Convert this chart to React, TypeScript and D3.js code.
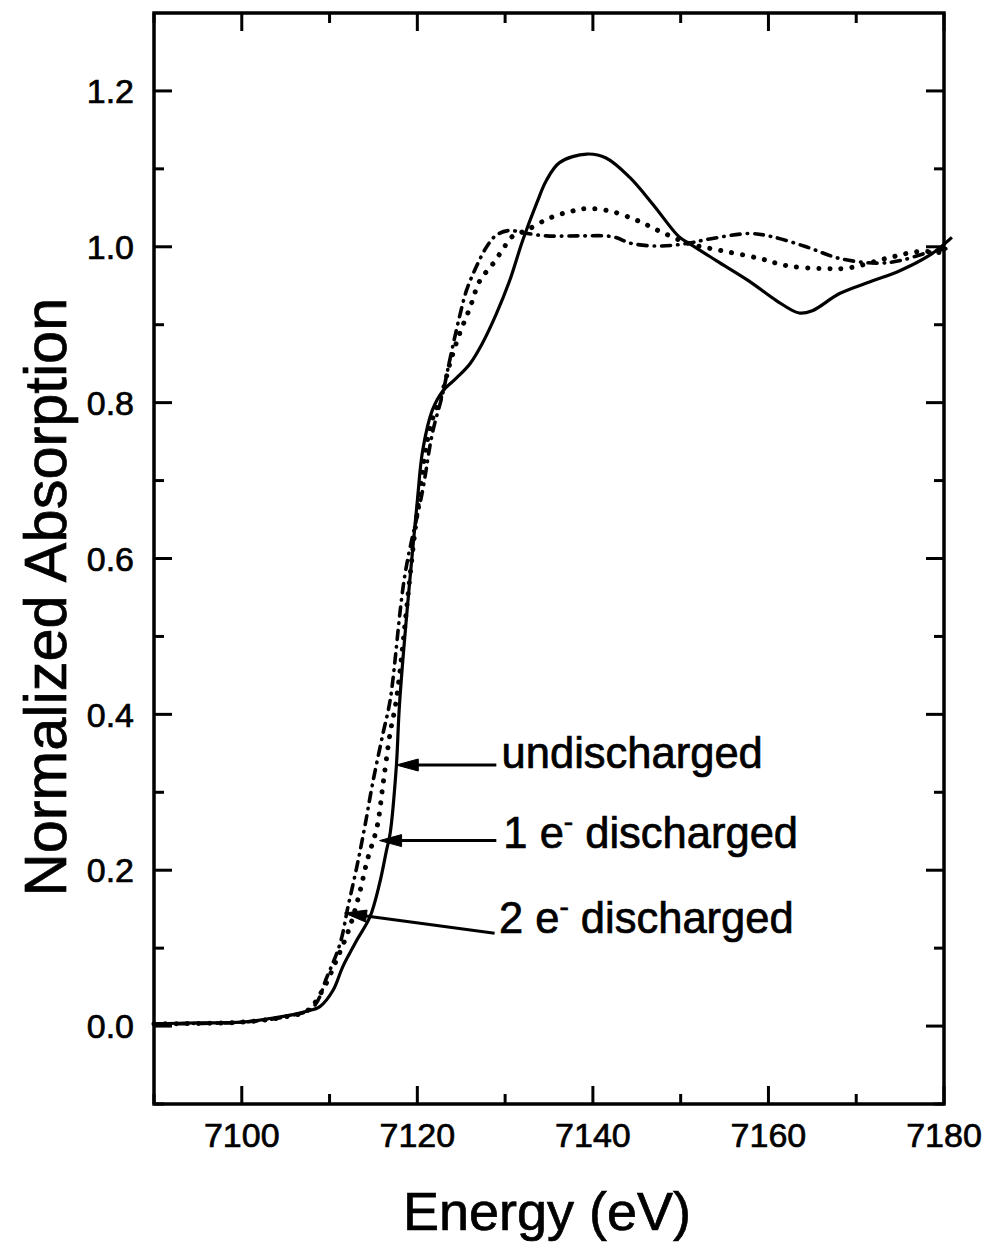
import React from "react";
import * as d3 from "d3";

// ---- data ----
const energyUndischarged = [7090, 7095, 7100, 7103.4, 7106, 7107.4, 7108.9, 7110.4, 7111.5, 7113.1, 7114.6, 7115.7, 7116.5, 7116.9, 7117.6, 7118.0, 7120.0, 7120.6, 7121.7, 7122.9, 7124.5, 7126.0, 7127.4, 7129.0, 7130.5, 7132.0, 7133.6, 7134.7, 7136.2, 7139.3, 7141.5, 7144.2, 7146.8, 7149.8, 7151.0, 7154.1, 7157.8, 7160.9, 7163.5, 7165.0, 7168.1, 7171.8, 7174.9, 7178.6, 7180.9];
const absUndischarged = [0.003, 0.004, 0.005, 0.01, 0.015, 0.019, 0.025, 0.046, 0.076, 0.11, 0.14, 0.183, 0.226, 0.247, 0.332, 0.418, 0.674, 0.738, 0.79, 0.815, 0.832, 0.85, 0.876, 0.914, 0.956, 1.008, 1.056, 1.085, 1.108, 1.119, 1.114, 1.089, 1.055, 1.013, 1.004, 0.982, 0.956, 0.931, 0.915, 0.918, 0.94, 0.956, 0.969, 0.991, 1.012];

const energyOneE = [7090, 7100, 7105, 7107.5, 7109.2, 7110.8, 7112.3, 7113.4, 7114.3, 7115.4, 7116.1, 7116.9, 7117.6, 7120.0, 7121.5, 7122.9, 7123.7, 7124.8, 7126, 7127.1, 7128.6, 7129.7, 7130.8, 7132.4, 7135.1, 7137.7, 7139.3, 7141.9, 7145, 7147.6, 7151, 7154.7, 7159, 7162, 7166.1, 7169.2, 7173.4, 7177.2, 7180.6];
const absOneE = [0.003, 0.005, 0.012, 0.02, 0.046, 0.085, 0.127, 0.17, 0.213, 0.255, 0.311, 0.376, 0.418, 0.66, 0.77, 0.815, 0.85, 0.888, 0.922, 0.956, 0.978, 0.996, 1.013, 1.021, 1.037, 1.046, 1.049, 1.046, 1.034, 1.02, 1.004, 0.995, 0.985, 0.976, 0.972, 0.973, 0.985, 0.994, 0.991];

const energyTwoE = [7090, 7100, 7105, 7108.1, 7109.7, 7111.2, 7112.1, 7113.1, 7114, 7114.9, 7116.1, 7116.9, 7118.6, 7120.6, 7121.7, 7122.9, 7123.7, 7124.8, 7125.6, 7126.7, 7127.9, 7129, 7130.5, 7132, 7134.7, 7138.5, 7142.2, 7144.5, 7147.6, 7150.6, 7153.3, 7157.8, 7160.4, 7164.3, 7168.1, 7172.3, 7174.9, 7178, 7180.5];
const absTwoE = [0.003, 0.005, 0.012, 0.024, 0.063, 0.106, 0.153, 0.204, 0.255, 0.311, 0.376, 0.418, 0.58, 0.687, 0.76, 0.812, 0.855, 0.91, 0.944, 0.974, 1.0, 1.015, 1.021, 1.018, 1.014, 1.014, 1.013, 1.004, 1.001, 1.004, 1.01, 1.017, 1.013, 1.0, 0.985, 0.979, 0.982, 0.992, 0.998];

const xTickLabels = [7100, 7120, 7140, 7160, 7180];
const yTickLabels = [0.0, 0.2, 0.4, 0.6, 0.8, 1.0, 1.2];

// annotations: arrow tip, arrow tail and label anchor, in data units
const annotationNames = ["undischarged", "1", "2"];
const annotationTips = [[7117.6, 0.335], [7115.7, 0.238], [7111.7, 0.145]];
const annotationTails = [[7129.0, 0.335], [7129.0, 0.238], [7128.8, 0.119]];
const annotationLabelPos = [[7129.6, 0.331], [7129.8, 0.228], [7129.3, 0.119]];

const W = 989, H = 1245;
const FONT = "'Liberation Sans', Arial, Helvetica, sans-serif";

export default function App() {
  const x = d3.scaleLinear().domain([7090, 7180]).range([154, 944]);
  const y = d3.scaleLinear().domain([-0.1, 1.3]).range([1104, 13]);

  const line = d3
    .line<[number, number]>()
    .x((d) => x(d[0]))
    .y((d) => y(d[1]))
    .curve(d3.curveCatmullRom.alpha(0.5));

  const zip = (a: number[], b: number[]) => a.map((v, i) => [v, b[i]] as [number, number]);

  const majorX = d3.range(7100, 7181, 20);
  const minorX = d3.range(7090, 7181, 10).filter((v) => !majorX.includes(v));
  const majorY = d3.range(0, 1.21, 0.2).map((v) => +v.toFixed(2));
  const minorY = [-0.1, 0.1, 0.3, 0.5, 0.7, 0.9, 1.1];

  const x0 = x(7090), x1 = x(7180), yT = y(1.3), yB = y(-0.1);
  const majLen = 18, minLen = 10;

  const arrow = (tip: number[], tail: number[]) => {
    const tx = x(tip[0]), ty = y(tip[1]);
    const ex = x(tail[0]), ey = y(tail[1]);
    const ang = Math.atan2(ey - ty, ex - tx);
    const L = 22, Wd = 6;
    const bx = tx + Math.cos(ang) * L, by = ty + Math.sin(ang) * L;
    const px = -Math.sin(ang) * Wd, py = Math.cos(ang) * Wd;
    return {
      line: `M${bx - Math.cos(ang) * 2},${by - Math.sin(ang) * 2}L${ex},${ey}`,
      head: `M${tx},${ty}L${bx + px},${by + py}L${bx - px},${by - py}Z`,
    };
  };

  const textStroke = { stroke: "#000", strokeWidth: 0.7 };

  return (
    <svg
      width={W}
      height={H}
      style={{ position: "absolute", left: 0, top: 0, background: "#fff" }}
      fontFamily={FONT}
    >
      <rect x={0} y={0} width={W} height={H} fill="#fff" />
      {/* curves */}
      <path d={line(zip(energyUndischarged, absUndischarged)) || ""} fill="none" stroke="#000" strokeWidth={3.2} />
      <path
        d={line(zip(energyOneE, absOneE)) || ""}
        fill="none"
        stroke="#000"
        strokeWidth={5}
        strokeLinecap="round"
        strokeDasharray="0.1,11"
      />
      <path
        d={line(zip(energyTwoE, absTwoE)) || ""}
        fill="none"
        stroke="#000"
        strokeWidth={3.6}
        strokeLinecap="round"
        strokeDasharray="9,7,0.5,7"
      />

      {/* frame */}
      <rect x={x0} y={yT} width={x1 - x0} height={yB - yT} fill="none" stroke="#000" strokeWidth={3.5} />
      {majorX.map((v) => (
        <g key={"mx" + v}>
          <line x1={x(v)} x2={x(v)} y1={yB} y2={yB - majLen} stroke="#000" strokeWidth={3} />
          <line x1={x(v)} x2={x(v)} y1={yT} y2={yT + majLen} stroke="#000" strokeWidth={3} />
        </g>
      ))}
      {minorX.map((v) => (
        <g key={"nx" + v}>
          <line x1={x(v)} x2={x(v)} y1={yB} y2={yB - minLen} stroke="#000" strokeWidth={3} />
          <line x1={x(v)} x2={x(v)} y1={yT} y2={yT + minLen} stroke="#000" strokeWidth={3} />
        </g>
      ))}
      {majorY.map((v) => (
        <g key={"my" + v}>
          <line x1={x0} x2={x0 + majLen} y1={y(v)} y2={y(v)} stroke="#000" strokeWidth={3} />
          <line x1={x1} x2={x1 - majLen} y1={y(v)} y2={y(v)} stroke="#000" strokeWidth={3} />
        </g>
      ))}
      {minorY.map((v) => (
        <g key={"ny" + v}>
          <line x1={x0} x2={x0 + minLen} y1={y(v)} y2={y(v)} stroke="#000" strokeWidth={3} />
          <line x1={x1} x2={x1 - minLen} y1={y(v)} y2={y(v)} stroke="#000" strokeWidth={3} />
        </g>
      ))}

      {/* tick labels */}
      {xTickLabels.map((v) => (
        <text key={"xl" + v} x={x(v)} y={1147} textAnchor="middle" fontSize={34} fill="#000" {...textStroke}>
          {v}
        </text>
      ))}
      {yTickLabels.map((v) => (
        <text key={"yl" + v} x={134} y={y(v)} dy="0.36em" textAnchor="end" fontSize={34} fill="#000" {...textStroke}>
          {v.toFixed(1)}
        </text>
      ))}

      {/* axis titles */}
      <text x={547} y={1230} textAnchor="middle" fontSize={54} fill="#000" {...textStroke}>
        Energy (eV)
      </text>
      <text
        transform={`translate(66,${597}) rotate(-90)`}
        textAnchor="middle"
        fontSize={59.5}
        fill="#000"
        {...textStroke}
      >
        Normalized Absorption
      </text>

      {/* annotations */}
      {annotationNames.map((name, i) => {
        const a = arrow(annotationTips[i], annotationTails[i]);
        const lx = x(annotationLabelPos[i][0]);
        const ly = y(annotationLabelPos[i][1]);
        return (
          <g key={"ann" + i}>
            <path d={a.line} stroke="#000" strokeWidth={3} fill="none" />
            <path d={a.head} fill="#000" stroke="#000" strokeWidth={1} />
            {name === "undischarged" ? (
              <text x={lx} y={ly} fontSize={43.5} fill="#000" {...textStroke}>
                undischarged
              </text>
            ) : (
              <text x={lx} y={ly} fontSize={43.5} fill="#000" {...textStroke}>
                {name} e
                <tspan fontSize={28} dy={-17}>
                  -
                </tspan>
                <tspan dy={17}> discharged</tspan>
              </text>
            )}
          </g>
        );
      })}
    </svg>
  );
}
